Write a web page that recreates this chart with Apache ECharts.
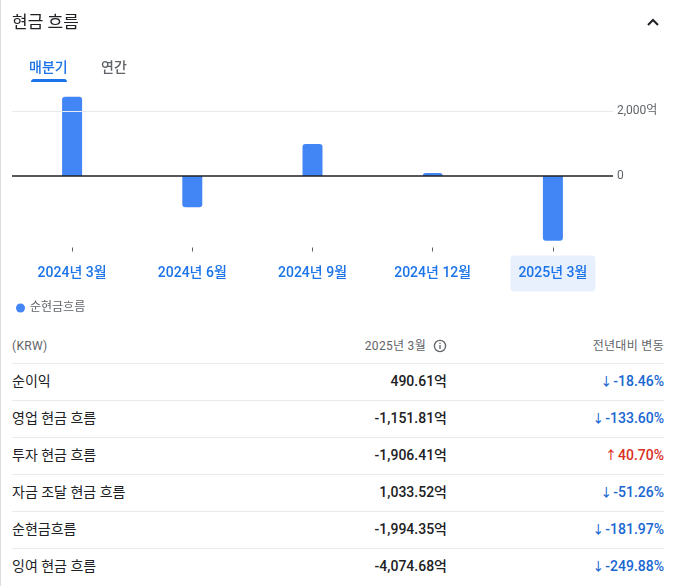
<!DOCTYPE html>
<html><head><meta charset="utf-8">
<script src="https://cdn.jsdelivr.net/npm/echarts@6/dist/echarts.min.js"></script>
<style>
html,body{margin:0;padding:0;background:#fff;}
body{width:676px;height:586px;position:relative;overflow:hidden;font-family:Roboto,"Noto Sans CJK KR",sans-serif;color:#202124;}
#chart{position:absolute;left:0;top:0;width:676px;height:330px;}
.t{position:absolute;white-space:nowrap;height:20px;line-height:20px;}
.r{text-align:right;}
.sep{position:absolute;left:12px;width:652px;height:1px;background:#e8eaed;}
.border{position:absolute;left:0;top:0;width:1px;height:586px;background:#dadce0;}
</style></head><body>
<div id="chart"></div>
<div class="border"></div>
<div id="ov"></div>
<script>
// ---- data ----
const categories = ['2024년 3월', '2024년 6월', '2024년 9월', '2024년 12월', '2025년 3월'];
const netCashFlow = [2440, -963, 985, 92, -1994.35];
const yLabelValues = [0, 2000];
const selectedIndex = 4;
const seriesName = '순현금흐름';
const title = '현금 흐름';
const tabs = ['매분기', '연간'];
const tableHeader = ['(KRW)', '2025년 3월', '전년대비 변동'];
const rowLabels = ['순이익', '영업 현금 흐름', '투자 현금 흐름', '자금 조달 현금 흐름', '순현금흐름', '잉여 현금 흐름'];
const rowValues = ['490.61억', '-1,151.81억', '-1,906.41억', '1,033.52억', '-1,994.35억', '-4,074.68억'];
const rowChanges = [-18.46, -133.60, 40.70, -51.26, -181.97, -249.88];

// ---- chart ----
const FONT = 'Roboto, "Noto Sans CJK KR", sans-serif';
const chart = echarts.init(document.getElementById('chart'), null, {renderer: 'canvas'});
const labelBase = {fontSize: 14, fontWeight: 500, color: '#1a73e8', fontFamily: FONT, padding: [11, 8], lineHeight: 14};
chart.setOption({
  animation: false,
  legend: {
    data: [seriesName], left: 11, top: 297, icon: 'circle', itemWidth: 9, itemHeight: 9, itemGap: 10,
    textStyle: {color: '#5f6368', fontSize: 12, fontFamily: FONT}
  },
  grid: {left: 12, right: 63, top: 94.75, height: 152.75, containLabel: false},
  xAxis: {
    type: 'category', data: categories,
    axisLine: {show: false, onZero: false},
    axisTick: {show: true, alignWithLabel: true, length: 4, lineStyle: {color: '#5f6368', width: 1}},
    axisLabel: {
      interval: 0, margin: 19,
      formatter: (v, i) => (i === selectedIndex ? '{s|' + v + '}' : '{n|' + v + '}'),
      rich: {
        n: labelBase,
        s: Object.assign({}, labelBase, {backgroundColor: '#e8f0fe', borderRadius: 4})
      }
    }
  },
  yAxis: {
    type: 'value', position: 'right', min: -2200, max: 2500,
    axisLine: {show: false}, axisTick: {show: false}, splitLine: {show: false},
    axisLabel: {
      customValues: yLabelValues, margin: 4, color: '#5f6368', fontSize: 12, fontFamily: FONT,
      formatter: v => (v === 0 ? '0' : v.toLocaleString('en-US') + '억')
    }
  },
  series: [
    {
      type: 'line', data: [], z: 1, silent: true,
      markLine: {
        silent: true, symbol: 'none', label: {show: false},
        data: yLabelValues.filter(v => v !== 0).map(v => ({yAxis: v})),
        lineStyle: {color: '#e8eaed', width: 1, type: 'solid'}
      }
    },
    {
      name: seriesName, type: 'bar', barWidth: 20, z: 2,
      itemStyle: {color: '#4285f4'},
      data: netCashFlow.map(v => ({value: v, itemStyle: {borderRadius: v >= 0 ? [3, 3, 0, 0] : [0, 0, 3, 3]}})),
      markLine: {
        silent: true, symbol: 'none', label: {show: false},
        data: [{yAxis: 0}],
        lineStyle: {color: '#202124', width: 1.5, type: 'solid'}
      }
    }
  ]
});

// ---- overlay html ----
const ov = document.getElementById('ov');
function add(text, cls, style) {
  const d = document.createElement('div');
  d.className = cls;
  d.textContent = text;
  Object.assign(d.style, style);
  ov.appendChild(d);
  return d;
}
add(title, 't', {left: '12px', top: '11px', fontSize: '17px', color: '#202124', height: '22px', lineHeight: '22px'});
// chevron
ov.insertAdjacentHTML('beforeend',
  '<svg style="position:absolute;left:646px;top:17px" width="14" height="10" viewBox="0 0 14 10"><polyline points="2,8 7,3 12,8" fill="none" stroke="#202124" stroke-width="2"/></svg>');
// tabs
add(tabs[0], 't', {left: '29px', top: '57px', fontSize: '14px', fontWeight: 500, color: '#1a73e8'});
add(tabs[1], 't', {left: '101px', top: '57px', fontSize: '14px', fontWeight: 500, color: '#5f6368'});
ov.insertAdjacentHTML('beforeend',
  '<div style="position:absolute;left:31px;top:79px;width:36px;height:3px;background:#1a73e8;border-radius:3px 3px 0 0"></div>');
// table header
add(tableHeader[0], 't', {left: '12px', top: '336px', fontSize: '12px', color: '#5f6368', letterSpacing: '0.3px'});
add(tableHeader[1], 't r', {right: (676 - 426) + 'px', top: '336px', fontSize: '12px', color: '#5f6368', letterSpacing: '0.3px'});
ov.insertAdjacentHTML('beforeend',
  '<svg style="position:absolute;left:433px;top:339px" width="14" height="14" viewBox="0 0 14 14"><circle cx="7" cy="7" r="5.6" fill="none" stroke="#5f6368" stroke-width="1.3"/><rect x="6.35" y="6" width="1.3" height="4" fill="#5f6368"/><rect x="6.35" y="3.8" width="1.3" height="1.3" fill="#5f6368"/></svg>');
add(tableHeader[2], 't r', {right: (676 - 664) + 'px', top: '336px', fontSize: '12px', color: '#5f6368', letterSpacing: '0.3px'});
// rows
rowLabels.forEach((lab, i) => {
  const cy = 381 + 37 * i;
  const sep = document.createElement('div');
  sep.className = 'sep';
  sep.style.top = (363 + 37 * i) + 'px';
  ov.appendChild(sep);
  add(lab, 't', {left: '12px', top: (cy - 10) + 'px', fontSize: '14px', fontWeight: 400, color: '#202124'});
  add(rowValues[i], 't r', {right: (676 - 447) + 'px', top: (cy - 10) + 'px', fontSize: '14px', fontWeight: 500, color: '#202124'});
  const ch = rowChanges[i];
  const up = ch > 0;
  const d = add('', 't r', {
    right: (676 - 664) + 'px', top: (cy - 10) + 'px', fontSize: '14px', fontWeight: 500,
    color: up ? '#d93025' : '#1967d2'
  });
  const a = document.createElement('span');
  a.textContent = up ? '↑' : '↓';
  a.style.fontSize = '12px';
  a.style.marginRight = '1px';
  d.appendChild(a);
  d.appendChild(document.createTextNode(ch.toFixed(2) + '%'));
});
</script>
</body></html>
